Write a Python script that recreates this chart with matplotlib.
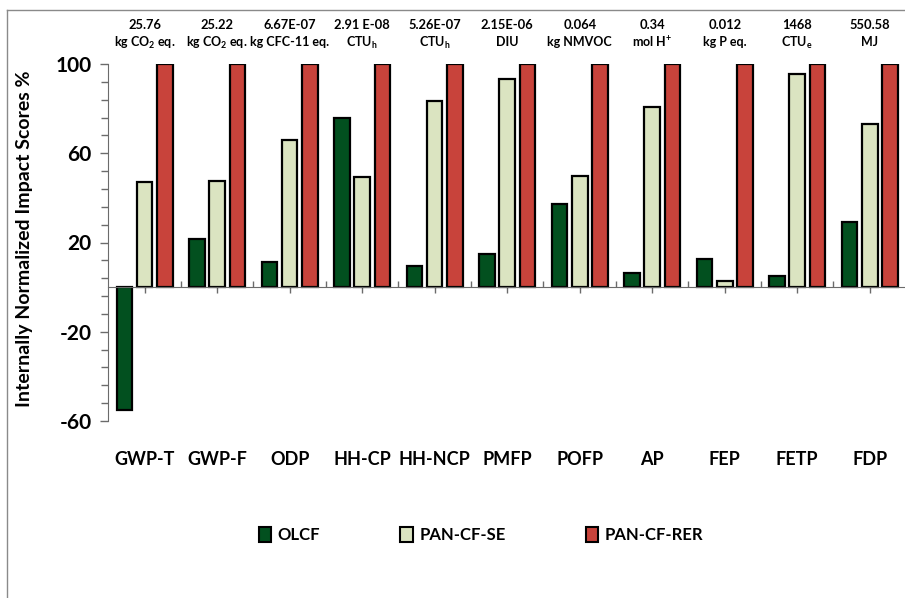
import numpy as np
import matplotlib
matplotlib.use("Agg")
import matplotlib.pyplot as plt
from matplotlib.patches import Patch
from matplotlib.ticker import FixedLocator, NullFormatter

plt.rcParams['font.family'] = ['Lato', 'DejaVu Sans']
plt.rcParams['font.weight'] = 'bold'
plt.rcParams['axes.unicode_minus'] = False
plt.rcParams['mathtext.fontset'] = 'custom'
plt.rcParams['mathtext.rm'] = 'Lato:bold'
plt.rcParams['mathtext.it'] = 'Lato:bold'
plt.rcParams['mathtext.bf'] = 'Lato:bold'
plt.rcParams['mathtext.default'] = 'rm'

categories = ["GWP-T", "GWP-F", "ODP", "HH-CP", "HH-NCP", "PMFP", "POFP", "AP", "FEP", "FETP", "FDP"]
totals = ["25.76", "25.22", "6.67E-07", "2.91 E-08", "5.26E-07", "2.15E-06",
          "0.064", "0.34", "0.012", "1468", "550.58"]
units = ["kg CO$_2$ eq.", "kg CO$_2$ eq.", "kg CFC-11 eq.", "CTU$_\\mathregular{h}$",
         "CTU$_\\mathregular{h}$", "DIU", "kg NMVOC", "mol H$^{+}$", "kg P eq.",
         "CTU$_\\mathregular{e}$", "MJ"]

series_names = ["OLCF", "PAN-CF-SE", "PAN-CF-RER"]
olcf = [-55.0, 21.7, 11.3, 75.6, 9.3, 14.8, 37.1, 6.3, 12.4, 5.2, 29.3]
pan_se = [47.1, 47.6, 66.1, 49.4, 83.4, 93.4, 49.9, 80.7, 2.7, 95.5, 72.9]
pan_rer = [100, 100, 100, 100, 100, 100, 100, 100, 100, 100, 100]
colors = ["#02501f", "#dbe4c1", "#c8433b"]

W, H = 905, 598
fig = plt.figure(figsize=(W / 100, H / 100), dpi=100)
ax = fig.add_axes([108.4 / W, 1 - 421 / H, 797.6 / W, 357 / H])

x = np.arange(len(categories))
bw = 0.215
step = 0.278
for k, vals in enumerate([olcf, pan_se, pan_rer]):
    ax.bar(x + (k - 1) * step, vals, width=bw, color=colors[k],
           edgecolor="black", linewidth=1.6, zorder=3)

ax.set_xlim(-0.5, len(categories) - 0.5)
ax.set_ylim(-60, 100)

axis_col = "#6b6b6b"
for s in ["top", "right"]:
    ax.spines[s].set_visible(False)
ax.spines["left"].set_color(axis_col)
ax.spines["bottom"].set_color(axis_col)
ax.spines["bottom"].set_position(("data", 0))
ax.spines["bottom"].set_zorder(4)

# y axis: labelled every 40, small ticks every 8
ax.yaxis.set_major_locator(FixedLocator([-60, -20, 20, 60, 100]))
ax.yaxis.set_minor_locator(FixedLocator(np.arange(-60, 101, 8)))
ax.tick_params(axis="y", which="major", length=6, width=1, color=axis_col,
               labelsize=15, pad=6)
ax.tick_params(axis="y", which="minor", length=5, width=1, color=axis_col)

# x axis: ticks at group centres (below) and group boundaries (above)
ax.xaxis.set_major_locator(FixedLocator(x))
ax.xaxis.set_minor_locator(FixedLocator(x[:-1] + 0.5))
ax.xaxis.set_major_formatter(NullFormatter())
ax.tick_params(axis="x", which="major", direction="out", length=4, width=1, color=axis_col)
ax.tick_params(axis="x", which="minor", direction="in", length=4, width=1, color=axis_col)

for i, name in enumerate(categories):
    ax.annotate(name, xy=(i, 0), xycoords=("data", "axes fraction"),
                xytext=(0, -28), textcoords="offset points",
                ha="center", va="center", fontsize=13, fontweight="bold")
    ax.annotate(totals[i], xy=(i, 1), xycoords=("data", "axes fraction"),
                xytext=(0, 28), textcoords="offset points",
                ha="center", va="center", fontsize=9.3, fontweight="bold")
    ax.annotate(units[i], xy=(i, 1), xycoords=("data", "axes fraction"),
                xytext=(0, 15.5), textcoords="offset points",
                ha="center", va="center", fontsize=9, fontweight="bold")

ax.set_ylabel("Internally Normalized Impact Scores %", fontsize=14,
              fontweight="bold")
ax.yaxis.set_label_coords(-75 / 797.6, 0.51)

handles = [Patch(facecolor=c, edgecolor="black", linewidth=1.5) for c in colors]
fig.legend(handles, series_names, loc="center", bbox_to_anchor=(481 / W, 1 - 535 / H),
           ncol=3, frameon=False, fontsize=12, handlelength=0.75, handleheight=1.0,
           handletextpad=0.4, columnspacing=4.8)

# outer frame of the figure
fig.add_artist(plt.Line2D([7 / W, 7 / W], [0, 1 - 10 / H], color="#8a8a8a", lw=1,
                          transform=fig.transFigure))
fig.add_artist(plt.Line2D([7 / W, 1], [1 - 10 / H, 1 - 10 / H], color="#8a8a8a", lw=1,
                          transform=fig.transFigure))

fig.savefig("out.png", dpi=100)
